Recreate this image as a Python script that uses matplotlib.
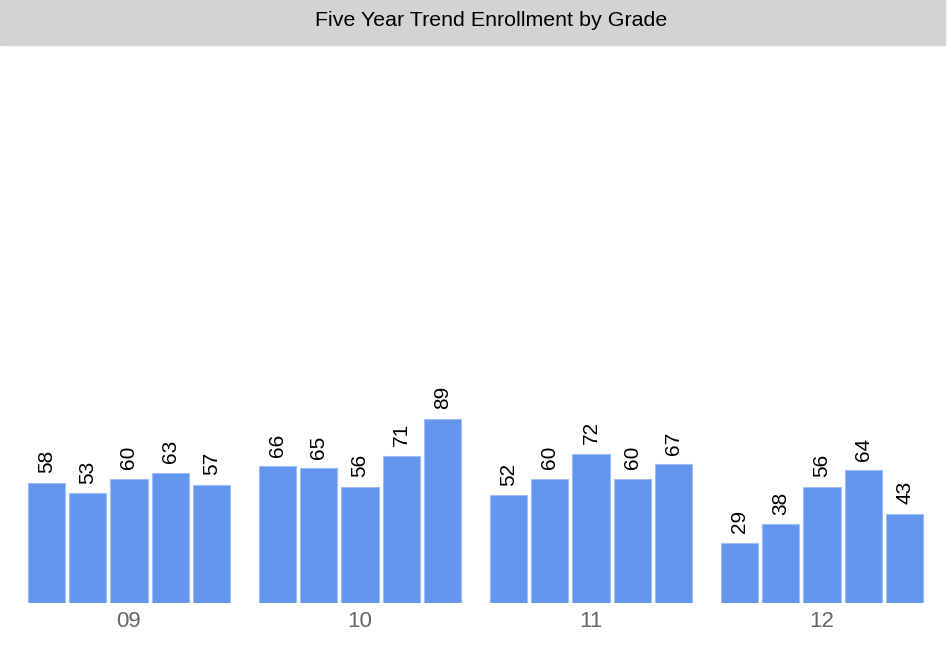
# five year enrollment trend, grouped bars per grade

import matplotlib.pyplot as plt
import numpy as np
from matplotlib.patches import Rectangle

plt.rcParams['font.family'] = ['Liberation Sans', 'DejaVu Sans']

grades = ["09", "10", "11", "12"]
year1 = [58, 66, 52, 29]
year2 = [53, 65, 60, 38]
year3 = [60, 56, 72, 56]
year4 = [63, 71, 60, 64]
year5 = [57, 89, 67, 43]
series = [year1, year2, year3, year4, year5]

fig = plt.figure(figsize=(9.51, 6.45), dpi=100)
H = 645.0

# title bar across the top
fig.patches.append(Rectangle((0, 1 - 45 / H), 945 / 951, 45 / H,
                             transform=fig.transFigure, color='#d3d3d3', zorder=0))
fig.text(491 / 951, 1 - 21 / H, "Five Year Trend Enrollment by Grade",
         ha='center', va='center', fontsize=15.4, color='black')

ax = fig.add_axes([0, 42 / H, 1, (603 - 50) / H])

x = np.arange(len(grades))
slot = 0.1788
width = 0.162
for i, vals in enumerate(series):
    pos = x + (i - 2) * slot
    bars = ax.bar(pos, vals, width, color='#6495ed', edgecolor='#9dbdf5', linewidth=0.8)
    for b, v in zip(bars, vals):
        ax.annotate(str(v), (b.get_x() + b.get_width() / 2, v),
                    xytext=(0, 7), textcoords='offset points',
                    ha='center', va='bottom', rotation=90, fontsize=15)

ax.set_xlim(-0.558, 3.558)
ax.set_ylim(0, 267)
ax.set_xticks(x)
ax.set_xticklabels(grades, fontsize=16, color='#666666')
ax.tick_params(axis='x', length=0, pad=6)
ax.set_yticks([])
for s in ax.spines.values():
    s.set_visible(False)
ax.patch.set_alpha(0)

plt.savefig('out.png', dpi=100)
